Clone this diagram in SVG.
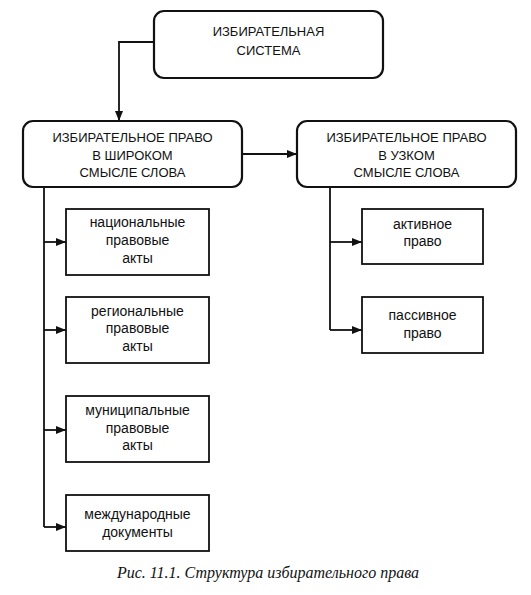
<svg xmlns="http://www.w3.org/2000/svg" width="531" height="595" viewBox="0 0 531 595">
<style>
.bg{fill:#fff}
.rb{fill:#fff;stroke:#111;stroke-width:2.2}
.sb{fill:#fff;stroke:#111;stroke-width:1.8}
.cap{font-family:"Liberation Sans",Arial,sans-serif;font-size:13px;fill:#111;text-anchor:middle}
.low{font-family:"Liberation Sans",Arial,sans-serif;font-size:14px;fill:#111;text-anchor:middle}
.ttl{font-family:"Liberation Serif","Times New Roman",serif;font-style:italic;font-size:16px;fill:#111;text-anchor:middle}
.ln{fill:none;stroke:#111;stroke-width:1.8}
</style>
<defs>
<marker id="ah" viewBox="0 0 10 8" refX="10" refY="4" markerWidth="10" markerHeight="8" markerUnits="userSpaceOnUse" orient="auto">
<path d="M0,0 L10,4 L0,8 Z" fill="#111"/>
</marker>
</defs>
<rect class="bg" x="0" y="0" width="531" height="595"/>
<g id="connectors">
<path class="ln" d="M154,42 H119 V121" marker-end="url(#ah)"/>
<path class="ln" d="M242,154 H297" marker-end="url(#ah)"/>
<path class="ln" d="M44,187 V527"/>
<path class="ln" d="M44,242 H66" marker-end="url(#ah)"/>
<path class="ln" d="M44,330 H66" marker-end="url(#ah)"/>
<path class="ln" d="M44,430 H66" marker-end="url(#ah)"/>
<path class="ln" d="M44,527 H66" marker-end="url(#ah)"/>
<path class="ln" d="M330,187 V330"/>
<path class="ln" d="M330,242 H362" marker-end="url(#ah)"/>
<path class="ln" d="M330,330 H362" marker-end="url(#ah)"/>
</g>
<g id="system">
<rect class="rb" x="154" y="11" width="229" height="67" rx="10"/>
<text class="cap" x="268.5" y="36">ИЗБИРАТЕЛЬНАЯ</text>
<text class="cap" x="268.5" y="55">СИСТЕМА</text>
</g>
<g id="broad">
<rect class="rb" x="23" y="121" width="219" height="66" rx="10"/>
<text class="cap" x="132.5" y="142">ИЗБИРАТЕЛЬНОЕ ПРАВО</text>
<text class="cap" x="132.5" y="160">В ШИРОКОМ</text>
<text class="cap" x="132.5" y="177">СМЫСЛЕ СЛОВА</text>
</g>
<g id="narrow">
<rect class="rb" x="297" y="121" width="219" height="66" rx="10"/>
<text class="cap" x="406.5" y="142">ИЗБИРАТЕЛЬНОЕ ПРАВО</text>
<text class="cap" x="406.5" y="160">В УЗКОМ</text>
<text class="cap" x="406.5" y="177">СМЫСЛЕ СЛОВА</text>
</g>
<g id="national">
<rect class="sb" x="66" y="209" width="143" height="66"/>
<text class="low" x="137.5" y="227">национальные</text>
<text class="low" x="137.5" y="245">правовые</text>
<text class="low" x="137.5" y="263">акты</text>
</g>
<g id="regional">
<rect class="sb" x="66" y="297" width="143" height="66"/>
<text class="low" x="137.5" y="316">региональные</text>
<text class="low" x="137.5" y="333">правовые</text>
<text class="low" x="137.5" y="351">акты</text>
</g>
<g id="municipal">
<rect class="sb" x="66" y="396" width="143" height="66"/>
<text class="low" x="137.5" y="415">муниципальные</text>
<text class="low" x="137.5" y="433">правовые</text>
<text class="low" x="137.5" y="450">акты</text>
</g>
<g id="international">
<rect class="sb" x="66" y="495" width="143" height="56"/>
<text class="low" x="137.5" y="519">международные</text>
<text class="low" x="137.5" y="537">документы</text>
</g>
<g id="active">
<rect class="sb" x="362" y="209" width="121" height="55"/>
<text class="low" x="422.5" y="229">активное</text>
<text class="low" x="422.5" y="246">право</text>
</g>
<g id="passive">
<rect class="sb" x="362" y="297" width="121" height="56"/>
<text class="low" x="422.5" y="320">пассивное</text>
<text class="low" x="422.5" y="338">право</text>
</g>
<text class="ttl" x="268" y="578">Рис. 11.1. Структура избирательного права</text>
</svg>
